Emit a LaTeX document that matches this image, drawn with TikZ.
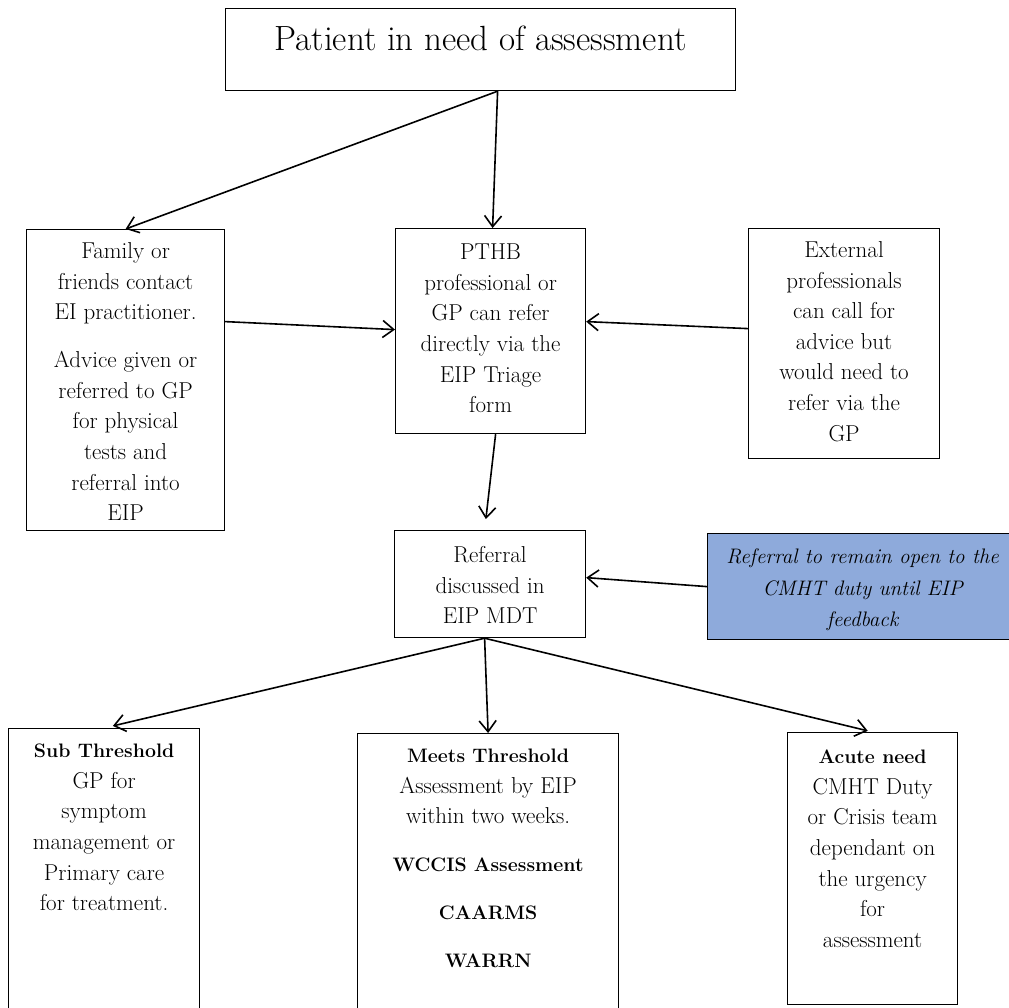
\documentclass[tikz,border=0pt]{standalone}
\usepackage{tikz}
\usetikzlibrary{arrows.meta}
\definecolor{cmhtBlue}{HTML}{8EAADB}
\newcommand{\boxtext}[4][15pt]{\parbox[c][#3][t]{#2}{\centering\vspace*{#1}#4}}
\newcommand{\paragap}{\par\vspace{17.4pt}}
\newcommand{\bfline}[1]{{\fontsize{19.5}{30.6}\selectfont\bfseries #1}}

\begin{document}
\begin{tikzpicture}[x=1pt, y=-1pt, >={Straight Barb[length=11pt,width=17pt]}, line width=1.6pt,
  every node/.style={font=\fontsize{23}{30.6}\selectfont},
  box/.style={draw, line width=1.2pt, inner sep=0pt, anchor=north west}]
\useasboundingbox (0,0) rectangle (1009,1007);
\node[box] (patient) at (225,8) {\boxtext[17.7pt]{510pt}{82pt}{\fontsize{35}{40}\selectfont Patient in need of assessment}};
\node[box] (family) at (26,229) {\boxtext[13pt]{198pt}{301pt}{Family or\\friends contact\\EI practitioner.\paragap Advice given or\\referred to GP\\for physical\\tests and\\referral into\\EIP}};
\node[box] (pthb) at (395,228) {\boxtext[15.3pt]{190pt}{205pt}{PTHB\\professional or\\GP can refer\\directly via the\\EIP Triage\\form}};
\node[box] (external) at (748,228) {\boxtext[13pt]{191pt}{230pt}{External\\professionals\\can call for\\advice but\\would need to\\refer via the\\GP}};
\node[box] (mdt) at (394,530) {\boxtext[16pt]{191pt}{107pt}{Referral\\discussed in\\EIP MDT}};
\node[box, fill=cmhtBlue] (cmht) at (707,533) {\boxtext[15.4pt]{310pt}{106pt}{\fontsize{21}{31.5}\selectfont\itshape Referral to remain open to the\\CMHT duty until EIP\\feedback}};
\node[box] (sub) at (8,728) {\boxtext[15.5pt]{191pt}{282pt}{\bfline{Sub Threshold}\\GP for\\symptom\\management or\\Primary care\\for treatment.}};
\node[box] (meets) at (357,733) {\boxtext[15.5pt]{261pt}{277pt}{\bfline{Meets Threshold}\\Assessment by EIP\\within two weeks.\paragap\bfline{WCCIS Assessment}\paragap\bfline{CAARMS}\paragap\bfline{WARRN}}};
\node[box] (acute) at (787,732) {\boxtext[17.5pt]{170pt}{272pt}{\bfline{Acute need}\\CMHT Duty\\or Crisis team\\dependant on\\the urgency\\for\\assessment}};

\draw[->] ([xshift=17pt]patient.south) -- (family.north);
\draw[->] ([xshift=17pt]patient.south) -- ([xshift=2pt]pthb.north);
\draw[->] ([yshift=58.5pt]family.east) -- ([yshift=1.5pt]pthb.west);
\draw[->] ([yshift=15pt]external.west) -- ([yshift=9.5pt]pthb.east);
\draw[->, shorten >=11pt] ([xshift=5pt]pthb.south) -- ([xshift=-5.5pt]mdt.north);
\draw[->] (cmht.west) -- ([yshift=6.5pt]mdt.east);
\draw[->, shorten >=9pt] ([xshift=-5.5pt]mdt.south) -- (sub.north);
\draw[->] ([xshift=-5.5pt]mdt.south) -- (meets.north);
\draw[->, shorten >=5pt] ([xshift=-5.5pt]mdt.south) -- (acute.north);
\end{tikzpicture}
\end{document}
